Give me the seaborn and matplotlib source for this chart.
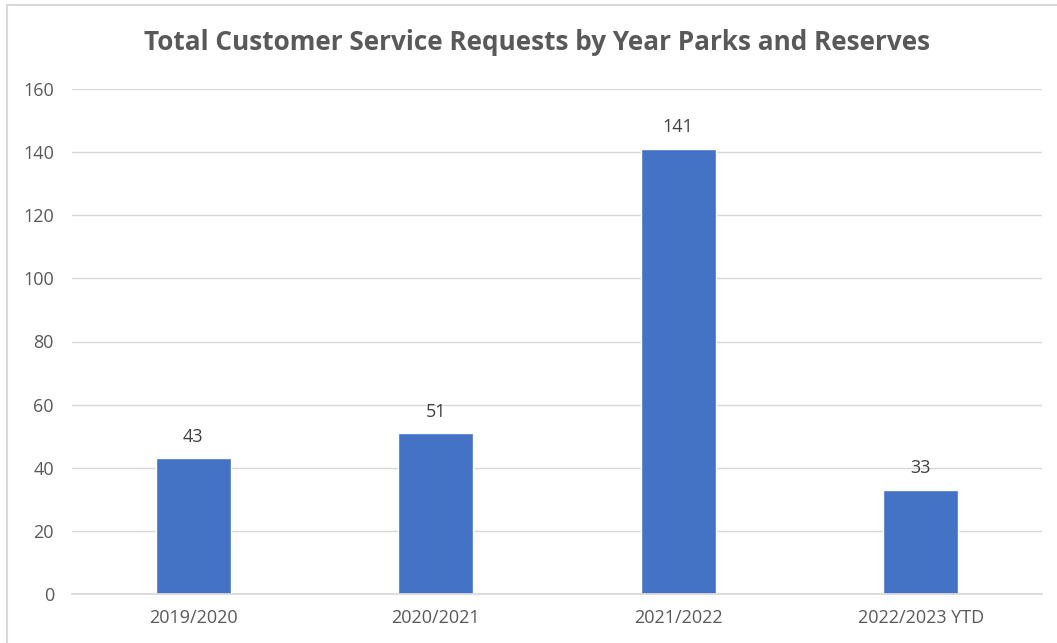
import matplotlib
matplotlib.use("Agg")
import matplotlib.pyplot as plt
import seaborn as sns
import pandas as pd

categories = ["2019/2020", "2020/2021", "2021/2022", "2022/2023 YTD"]
values = [43, 51, 141, 33]
yticks = [0, 20, 40, 60, 80, 100, 120, 140, 160]

sns.set_theme(style="white")
plt.rcParams['font.family'] = ['Open Sans', 'DejaVu Sans']

df = pd.DataFrame({"year": categories, "requests": values})

fig = plt.figure(figsize=(10.57, 6.43), dpi=100)
ax = fig.add_axes([72/1057, 49/643, 970/1057, 505/643])
sns.barplot(data=df, x="year", y="requests", color="#4472C4", width=0.31,
            saturation=1, ax=ax, zorder=3)
ax.set_ylim(0, 160)
ax.set_yticks(yticks)
ax.set_xlim(-0.5, len(categories) - 0.5)
ax.yaxis.grid(True, color="#D9D9D9", linewidth=1, zorder=0)
ax.set_axisbelow(True)
for s in ["top", "right", "left"]:
    ax.spines[s].set_visible(False)
ax.spines["bottom"].set_color("#D9D9D9")
ax.spines["bottom"].set_zorder(4)
ax.set_xlabel("")
ax.set_ylabel("")
ax.tick_params(axis="both", colors="#595959", labelsize=13, length=0)
ax.tick_params(axis="y", pad=13)
ax.tick_params(axis="x", pad=11)
for lbl in ax.get_yticklabels():
    lbl.set_color("#595959")
for lbl in ax.get_xticklabels():
    lbl.set_color("#595959")
for c in ax.containers:
    ax.bar_label(c, labels=[str(v) for v in values], padding=9,
                 color="#404040", fontsize=13)

fig.text(537/1057, 1 - 43/643, "Total Customer Service Requests by Year Parks and Reserves",
         ha="center", va="center", fontsize=18.8, fontweight="bold", color="#595959")

border = plt.Rectangle((7/1057, -0.05), 1.1, 1.05 - 5/643, transform=fig.transFigure,
                       fill=False, edgecolor="#D9D9D9", linewidth=1.5)
fig.patches.append(border)

fig.savefig("out.png", dpi=100)
